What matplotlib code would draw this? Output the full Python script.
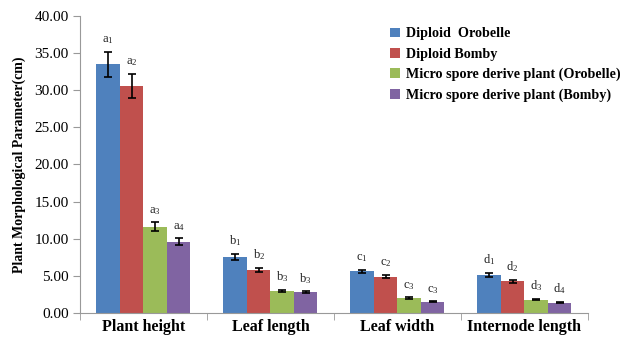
import numpy as np
import matplotlib
matplotlib.use('Agg')
import matplotlib.pyplot as plt

# data
categories = ['Plant height', 'Leaf length', 'Leaf width', 'Internode length']
series = ['Diploid  Orobelle', 'Diploid Bomby',
          'Micro spore derive plant (Orobelle)', 'Micro spore derive plant (Bomby)']
colors = ['#4F81BD', '#C0504D', '#9BBB59', '#8064A2']

orobelle = [33.5, 7.6, 5.6, 5.1]
bomby = [30.6, 5.8, 4.9, 4.3]
micro_orobelle = [11.6, 3.0, 2.0, 1.8]
micro_bomby = [9.6, 2.8, 1.5, 1.4]
values = [orobelle, bomby, micro_orobelle, micro_bomby]

err_orobelle = [1.7, 0.4, 0.25, 0.3]
err_bomby = [1.6, 0.3, 0.25, 0.2]
err_micro_orobelle = [0.6, 0.15, 0.1, 0.1]
err_micro_bomby = [0.45, 0.12, 0.08, 0.08]
errors = [err_orobelle, err_bomby, err_micro_orobelle, err_micro_bomby]

letters = [['a_1', 'a_2', 'a_3', 'a_4'],
           ['b_1', 'b_2', 'b_3', 'b_3'],
           ['c_1', 'c_2', 'c_3', 'c_3'],
           ['d_1', 'd_2', 'd_3', 'd_4']]

plt.rcParams['font.family'] = ['Liberation Serif', 'DejaVu Serif']
plt.rcParams['mathtext.fontset'] = 'custom'
plt.rcParams['mathtext.rm'] = 'Liberation Serif'
plt.rcParams['mathtext.it'] = 'Liberation Serif'

fig = plt.figure(figsize=(6.2, 3.38), dpi=100)
ax = fig.add_axes([0.129, 0.074, 0.819, 0.879])

x = np.arange(len(categories))
w = 0.185
for i in range(4):
    pos = x + (i - 1.5) * w
    ax.bar(pos, values[i], w, color=colors[i], label=series[i], zorder=2)
    ax.errorbar(pos, values[i], yerr=errors[i], fmt='none', ecolor='black',
                elinewidth=1.2, capsize=3, capthick=1.2, zorder=3)
    for j in range(len(categories)):
        top = values[i][j] + errors[i][j]
        ax.annotate('$\\mathrm{' + letters[j][i] + '}$', (pos[j], top),
                    xytext=(0, 4), textcoords='offset points',
                    ha='center', va='bottom', fontsize=9, color='#222222')

ax.set_xlim(-0.5, len(categories) - 0.5)
ax.set_ylim(0, 40)
ax.set_yticks(np.arange(0, 45, 5))
ax.set_yticklabels(['%.2f' % v for v in np.arange(0, 45, 5)], fontsize=11)
ax.set_xticks(x)
ax.set_xticklabels(categories, fontsize=11.5, fontweight='bold')
ax.tick_params(axis='x', length=0, pad=4)
ax.set_xticks(np.arange(-0.5, len(categories)), minor=True)
ax.tick_params(axis='x', which='minor', length=5, color='#999999', direction='out')
ax.tick_params(axis='y', length=5, color='#999999', direction='out', pad=3)
ax.set_ylabel('Plant Morphological Parameter(cm)', fontsize=10, fontweight='bold', labelpad=6)

for s in ['top', 'right']:
    ax.spines[s].set_visible(False)
for s in ['left', 'bottom']:
    ax.spines[s].set_color('#999999')

leg = ax.legend(loc='upper left', bbox_to_anchor=(0.6, 0.98), frameon=False,
                prop={'weight': 'bold', 'size': 10.2}, handlelength=0.7,
                handleheight=0.7, handletextpad=0.4, labelspacing=0.5,
                borderaxespad=0)

fig.savefig('out.png', dpi=100)
